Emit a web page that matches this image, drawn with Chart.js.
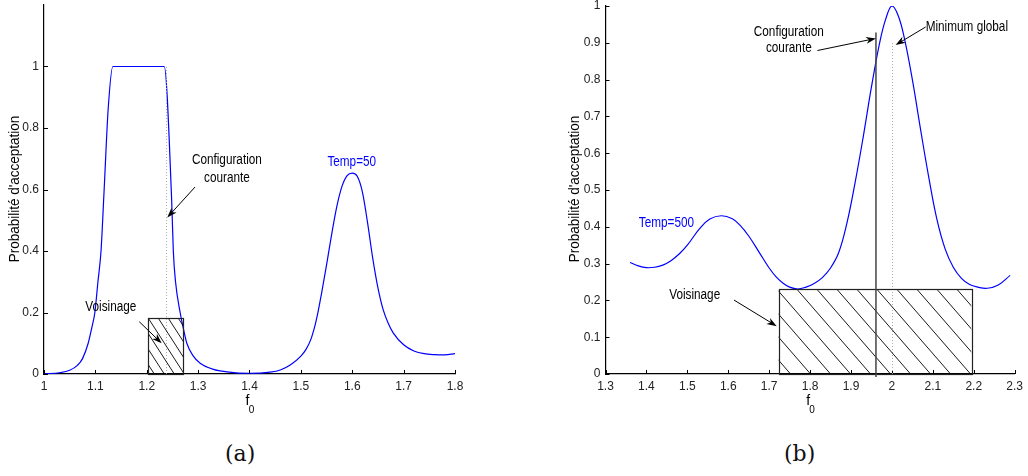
<!DOCTYPE html>
<html>
<head>
<meta charset="utf-8">
<script src="https://cdn.jsdelivr.net/npm/chart.js@4/dist/chart.umd.min.js"></script>
<style>
  body { margin: 0; background: #fff; width: 1028px; height: 476px; overflow: hidden; position: relative; }
  canvas { position: absolute; top: 0; }
  #cA { left: 0; }
  #cB { left: 560px; }
  .cap { position: absolute; top: 441px; font: 22px "DejaVu Serif", "Liberation Serif", serif; color: #111; }
</style>
</head>
<body>
<canvas id="cA" width="470" height="420"></canvas>
<canvas id="cB" width="468" height="420"></canvas>
<div class="cap" style="left:225px">(a)</div>
<div class="cap" style="left:784px">(b)</div>
<script>
// chart (a) : Temp=50
var fA = [1.00, 1.03, 1.05, 1.065, 1.075, 1.086, 1.093, 1.099, 1.105, 1.111, 1.117, 1.125, 1.134,
          1.234, 1.2485, 1.2517, 1.256, 1.265, 1.271, 1.278, 1.29, 1.304, 1.33, 1.356, 1.40,
          1.44, 1.46, 1.48, 1.50, 1.51, 1.52, 1.53, 1.54, 1.55, 1.56, 1.57, 1.58, 1.59, 1.60,
          1.61, 1.62, 1.63, 1.64, 1.65, 1.66, 1.67, 1.68, 1.70, 1.72, 1.74, 1.76, 1.78, 1.80];
var pA = [0.000, 0.004, 0.012, 0.028, 0.05, 0.10, 0.15, 0.20, 0.30, 0.40, 0.597, 0.864, 1.00,
          1.00, 0.565, 0.40, 0.30, 0.20, 0.15, 0.10, 0.06, 0.035, 0.015, 0.007, 0.002,
          0.006, 0.013, 0.03, 0.058, 0.08, 0.115, 0.175, 0.26, 0.355, 0.455, 0.545, 0.61, 0.645, 0.653,
          0.642, 0.59, 0.49, 0.375, 0.28, 0.21, 0.165, 0.133, 0.095, 0.075, 0.066, 0.063, 0.062, 0.066];
var xTicksA = [1, 1.1, 1.2, 1.3, 1.4, 1.5, 1.6, 1.7, 1.8];
var yTicksA = [0, 0.2, 0.4, 0.6, 0.8, 1];
var boxA = [1.203, 1.271, 0, 0.183];     // voisinage: x0, x1, y0, y1
var currentA = 1.237;                     // configuration courante

// chart (b) : Temp=500
var fB = [1.36, 1.38, 1.40, 1.42, 1.44, 1.46, 1.48, 1.50, 1.53, 1.555, 1.583, 1.61, 1.628,
          1.65, 1.676, 1.70, 1.717, 1.735, 1.75, 1.77, 1.79, 1.81, 1.83, 1.85, 1.87,
          1.89, 1.91, 1.93, 1.95, 1.97, 1.985, 2.0, 2.015, 2.03, 2.05, 2.07, 2.09,
          2.11, 2.13, 2.15, 2.17, 2.19, 2.21, 2.233, 2.26, 2.289];
var pB = [0.303, 0.294, 0.289, 0.290, 0.296, 0.308, 0.326, 0.350, 0.395, 0.421, 0.430, 0.422, 0.405,
          0.375, 0.330, 0.288, 0.264, 0.246, 0.236, 0.231, 0.236, 0.246, 0.262, 0.288, 0.33,
          0.41, 0.52, 0.645, 0.78, 0.90, 0.965, 1.0, 0.975, 0.915, 0.80, 0.665, 0.535,
          0.42, 0.34, 0.29, 0.26, 0.243, 0.236, 0.233, 0.242, 0.268];
var xTicksB = [1.3, 1.4, 1.5, 1.6, 1.7, 1.8, 1.9, 2, 2.1, 2.2, 2.3];
var yTicksB = [0, 0.1, 0.2, 0.3, 0.4, 0.5, 0.6, 0.7, 0.8, 0.9, 1];
var boxB = [1.723, 2.194, 0, 0.23];
var currentB = 1.961;
var globalB = 2.0;

var FONT = '"Liberation Sans", Arial, sans-serif';

function pts(xs, ys) {
  return xs.map(function (x, i) { return { x: x, y: ys[i] }; });
}

function arrow(ctx, x1, y1, x2, y2) {
  var a = Math.atan2(y2 - y1, x2 - x1), L = 10, W = 3.5;
  ctx.beginPath();
  ctx.moveTo(x1, y1);
  ctx.lineTo(x2 - Math.cos(a) * 4, y2 - Math.sin(a) * 4);
  ctx.stroke();
  ctx.beginPath();
  ctx.moveTo(x2, y2);
  ctx.lineTo(x2 - L * Math.cos(a) + W * Math.sin(a), y2 - L * Math.sin(a) - W * Math.cos(a));
  ctx.lineTo(x2 - L * Math.cos(a) * 0.7, y2 - L * Math.sin(a) * 0.7);
  ctx.lineTo(x2 - L * Math.cos(a) - W * Math.sin(a), y2 - L * Math.sin(a) + W * Math.cos(a));
  ctx.closePath();
  ctx.fill();
}

// narrow Helvetica-ish text, like the matlab export
function narrowText(ctx, s, x, y, align) {
  ctx.save();
  ctx.translate(x, y);
  ctx.scale(0.84, 1);
  ctx.textAlign = align;
  ctx.fillText(s, 0, 0);
  ctx.restore();
}

// draws inward ticks, box, hatching, guide lines, annotations, axis titles
function decor(cfg) {
  return {
    id: 'decor',
    afterDatasetsDraw: function (chart) {
      var ctx = chart.ctx, xs = chart.scales.x, ys = chart.scales.y, ca = chart.chartArea;
      var X = function (v) { return xs.getPixelForValue(v); };
      var Y = function (v) { return ys.getPixelForValue(v); };
      ctx.save();
      ctx.strokeStyle = '#000';
      ctx.fillStyle = '#000';
      ctx.lineWidth = 1;
      // inward ticks
      ctx.beginPath();
      xs.ticks.forEach(function (t) {
        var px = Math.round(X(t.value)) + 0.5;
        ctx.moveTo(px, ca.bottom); ctx.lineTo(px, ca.bottom - 4);
      });
      ys.ticks.forEach(function (t) {
        var py = Math.round(Y(t.value)) + 0.5;
        ctx.moveTo(ca.left, py); ctx.lineTo(ca.left + 4, py);
      });
      ctx.stroke();

      // dotted guide lines
      ctx.strokeStyle = '#aaa';
      ctx.setLineDash([1, 2]);
      cfg.dotted.forEach(function (d) {
        ctx.beginPath();
        ctx.moveTo(Math.round(X(d[0])) + 0.5, Y(d[1]));
        ctx.lineTo(Math.round(X(d[0])) + 0.5, Y(d[2]));
        ctx.stroke();
      });
      ctx.setLineDash([]);

      // hatched box
      var b = cfg.box;
      var bx0 = X(b[0]), bx1 = X(b[1]), by0 = Y(b[3]), by1 = Y(b[2]);
      ctx.save();
      ctx.beginPath();
      ctx.rect(bx0, by0, bx1 - bx0, by1 - by0);
      ctx.clip();
      ctx.strokeStyle = '#000';
      ctx.lineWidth = 0.9;
      var h = by1 - by0, span = h / cfg.slope;
      for (var sx = bx0 - span + cfg.gap * 0.6; sx < bx1; sx += cfg.gap) {
        ctx.beginPath();
        ctx.moveTo(sx, by0);
        ctx.lineTo(sx + span, by1);
        ctx.stroke();
      }
      ctx.restore();
      ctx.strokeStyle = '#222';
      ctx.lineWidth = 1.2;
      ctx.strokeRect(Math.round(bx0) + 0.5, Math.round(by0) + 0.5, Math.round(bx1 - bx0), Math.round(by1 - by0));

      // solid current-configuration line
      if (cfg.solid) {
        ctx.strokeStyle = '#444';
        ctx.lineWidth = 1.5;
        ctx.beginPath();
        ctx.moveTo(X(cfg.solid[0]), Y(cfg.solid[1]));
        ctx.lineTo(X(cfg.solid[0]), Y(cfg.solid[2]));
        ctx.stroke();
      }

      // annotations
      ctx.strokeStyle = '#000';
      ctx.fillStyle = '#000';
      ctx.lineWidth = 1;
      cfg.arrows.forEach(function (a) { arrow(ctx, X(a[0]), Y(a[1]), X(a[2]), Y(a[3])); });
      ctx.font = '14px ' + FONT;
      ctx.textBaseline = 'middle';
      cfg.texts.forEach(function (t) {
        ctx.fillStyle = t[4] || '#000';
        narrowText(ctx, t[0], X(t[1]), Y(t[2]), t[3] || 'center');
      });

      // axis titles
      ctx.fillStyle = '#000';
      ctx.textAlign = 'center';
      ctx.save();
      ctx.translate(cfg.yTitleX, 189);
      ctx.rotate(-Math.PI / 2);
      ctx.font = '15px ' + FONT;
      ctx.scale(0.9, 1);
      ctx.fillText("Probabilité d'acceptation", 0, 0);
      ctx.restore();
      var fx = (ca.left + ca.right) / 2 - 2;
      ctx.font = '14px ' + FONT;
      ctx.fillText('f', fx, ca.bottom + 27);
      ctx.font = '10px ' + FONT;
      ctx.fillText('0', fx + 4, ca.bottom + 36);
      ctx.restore();
    }
  };
}

function makeChart(id, xs, ys, xTicks, yTicks, yMax, yW, pad, smooth, cfg) {
  return new Chart(document.getElementById(id), {
    type: 'line',
    data: {
      datasets: [{
        data: pts(xs, ys),
        borderColor: '#0000ff',
        borderWidth: 1.2,
        pointRadius: 0,
        cubicInterpolationMode: smooth ? 'default' : 'monotone',
        tension: smooth ? 0.4 : 0,
        fill: false
      }]
    },
    options: {
      responsive: false,
      animation: false,
      devicePixelRatio: 1,
      layout: { padding: pad },
      plugins: { legend: { display: false }, tooltip: { enabled: false } },
      scales: {
        x: {
          type: 'linear',
          min: xTicks[0],
          max: xTicks[xTicks.length - 1],
          afterBuildTicks: function (s) { s.ticks = xTicks.map(function (v) { return { value: v }; }); },
          afterFit: function (s) { s.height = 46; },
          grid: { display: true, drawOnChartArea: false, drawTicks: false },
          border: { display: true, color: '#000', width: 1.2 },
          ticks: {
            padding: 5, color: '#222', maxRotation: 0, autoSkip: false,
            font: { family: FONT, size: 12 },
            callback: function (v) { return String(v); }
          }
        },
        y: {
          type: 'linear',
          min: 0,
          max: yMax,
          afterBuildTicks: function (s) { s.ticks = yTicks.map(function (v) { return { value: v }; }); },
          afterFit: function (s) { s.width = yW; s.paddingTop = 0; s.paddingBottom = 0; },
          grid: { display: true, drawOnChartArea: false, drawTicks: false },
          border: { display: true, color: '#000', width: 1.2 },
          ticks: {
            padding: 5, color: '#222', autoSkip: false,
            font: { family: FONT, size: 12 },
            callback: function (v) { return String(v); }
          }
        }
      }
    },
    plugins: [decor(cfg)]
  });
}

makeChart('cA', fA, pA, xTicksA, yTicksA, 1.2, 44, { top: 5, right: 15, left: 0, bottom: 0 }, false, {
  box: boxA, slope: 1.55, gap: 10,
  dotted: [[currentA, 0, 1]],
  solid: null,
  arrows: [[1.294, 0.608, 1.240, 0.509], [1.1855, 0.170, 1.229, 0.0997]],
  texts: [['Configuration', 1.356, 0.695], ['courante', 1.356, 0.636], ['Voisinage', 1.130, 0.218],
          ['Temp=50', 1.599, 0.689, 'center', '#0000ff']],
  yTitleX: 15
});

makeChart('cB', fB, pB, xTicksB, yTicksB, 1, 45.5, { top: 6, right: 12, left: 0, bottom: 0 }, true, {
  box: boxB, slope: 1.15, gap: 20,
  dotted: [[globalB, 0, 0.9]],
  solid: [currentB, -0.008, 0.928],
  arrows: [[1.818, 0.879, 1.961, 0.912], [2.0825, 0.943, 2.009, 0.894], [1.614, 0.201, 1.7185, 0.130]],
  texts: [['Configuration', 1.748, 0.930], ['courante', 1.748, 0.885], ['Minimum global', 2.0825, 0.943, 'left'],
          ['Temp=500', 1.449, 0.4095, 'center', '#0000ff'], ['Voisinage', 1.518, 0.213]],
  yTitleX: 15
});
</script>
</body>
</html>
